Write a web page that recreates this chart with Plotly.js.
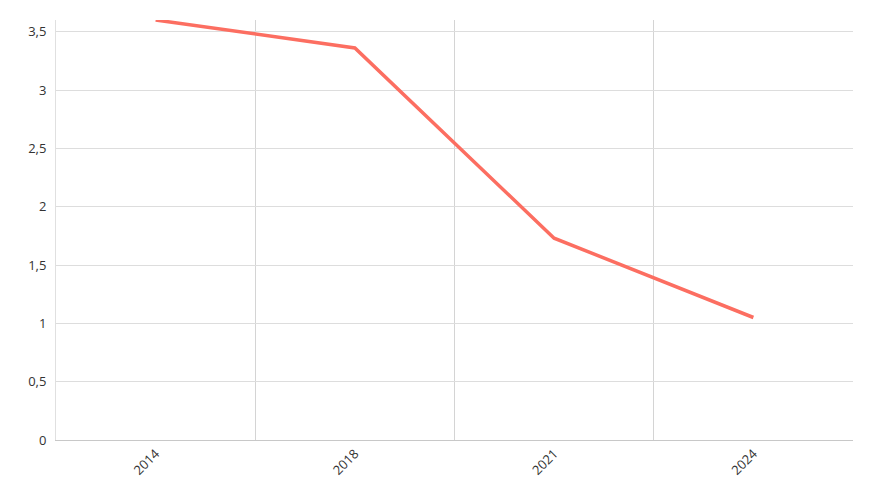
<!DOCTYPE html>
<html>
<head>
<meta charset="utf-8">
<script src="https://cdn.plot.ly/plotly-3.0.1.min.js"></script>
<style>html,body{margin:0;padding:0;background:#fff;}#chart{width:873px;height:500px;}</style>
</head>
<body>
<div id="chart"></div>
<script>
var years = ["2014", "2018", "2021", "2024"];
var values = [3.6, 3.36, 1.73, 1.05];
var yTicks = [0, 0.5, 1, 1.5, 2, 2.5, 3, 3.5];

Plotly.newPlot('chart', [{
  type: 'scatter',
  mode: 'lines',
  x: years,
  y: values,
  line: {color: '#fc6e61', width: 3.5},
  hoverinfo: 'x+y'
}], {
  width: 873,
  height: 500,
  margin: {l: 56, r: 20, t: 20, b: 60},
  paper_bgcolor: '#fff',
  plot_bgcolor: '#fff',
  separators: ', ',
  showlegend: false,
  font: {family: 'Open Sans, sans-serif', size: 13, color: '#333'},
  xaxis: {
    type: 'category',
    range: [-0.5, 3.5],
    tickson: 'boundaries',
    showgrid: true,
    gridcolor: '#d4d4d4',
    gridwidth: 1,
    ticks: '',
    tickangle: -45,
    showline: true,
    linecolor: '#c8c8c8',
    linewidth: 1,
    zeroline: false,
    tickfont: {size: 13, color: '#333'}
  },
  yaxis: {
    range: [0, 3.6],
    tickvals: yTicks,
    ticktext: yTicks.map(function(v){return String(v).replace('.', ',');}),
    showgrid: true,
    gridcolor: '#dddddd',
    gridwidth: 1,
    ticks: '',
    showline: true,
    linecolor: '#e0e0e0',
    linewidth: 1,
    zeroline: false,
    ticklabelstandoff: 6,
    tickfont: {size: 13, color: '#333'}
  }
}, {displayModeBar: false, staticPlot: true});
</script>
</body>
</html>
